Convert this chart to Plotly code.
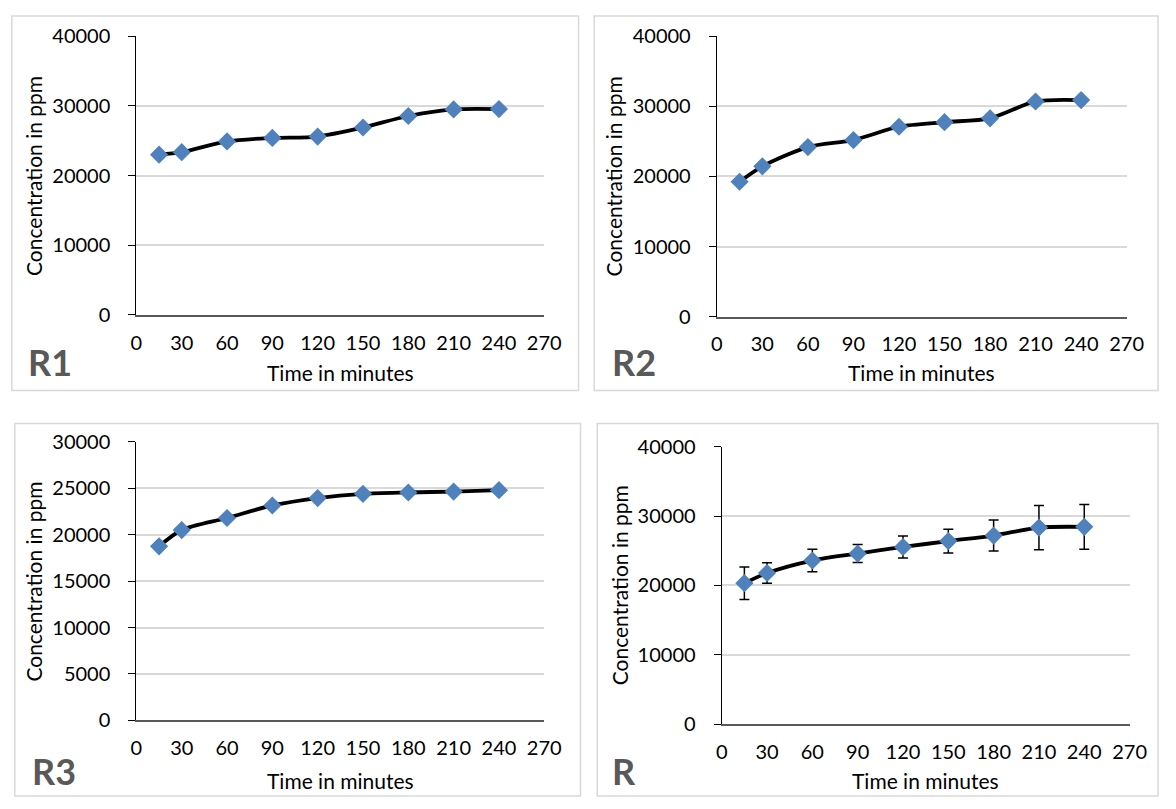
import plotly.graph_objects as go

# Sampling times (minutes) and measured concentrations (ppm)
time_min = [15, 30, 60, 90, 120, 150, 180, 210, 240]
r1_ppm = [23000, 23350, 24900, 25400, 25600, 26900, 28550, 29500, 29550]
r2_ppm = [19250, 21450, 24200, 25200, 27100, 27750, 28300, 30700, 30900]
r3_ppm = [18750, 20500, 21800, 23150, 23950, 24400, 24550, 24650, 24800]
r_mean_ppm = [20330, 21800, 23600, 24600, 25550, 26400, 27200, 28350, 28450]
r_sd_ppm = [2350, 1470, 1630, 1300, 1590, 1700, 2240, 3190, 3240]

x_tick_vals = [0, 30, 60, 90, 120, 150, 180, 210, 240, 270]
panel_labels = ["R1", "R2", "R3", "R"]
x_title = "Time in minutes"
y_title = "Concentration in ppm"

W, H = 1176, 809
FONT = "Lato"
TICK_SIZE = 20
TITLE_SIZE = 21


def fx(px):
    return px / W


def fy(py):
    return 1 - py / H


# Layout of each panel in pixels: frame box, plot area, title positions
panels = [
    dict(label=panel_labels[0], y=r1_ppm, err=None, ymax=40000, dtick=10000,
         box=(6, 3, 584, 389), plot=(133, 24, 549, 311),
         ytitle_x=28, xtitle_y=370, tag=(45, 360)),
    dict(label=panel_labels[1], y=r2_ppm, err=None, ymax=40000, dtick=10000,
         box=(600, 3, 1175, 389), plot=(725, 24, 1143, 313),
         ytitle_x=620, xtitle_y=370, tag=(641, 360)),
    dict(label=panel_labels[2], y=r3_ppm, err=None, ymax=30000, dtick=5000,
         box=(9, 423, 586, 807), plot=(133, 442, 549, 729),
         ytitle_x=28, xtitle_y=791, tag=(49, 781)),
    dict(label=panel_labels[3], y=r_mean_ppm, err=r_sd_ppm, ymax=40000,
         dtick=10000, box=(603, 423, 1175, 807), plot=(730, 447, 1146, 733),
         ytitle_x=626, xtitle_y=791, tag=(630, 781)),
]

fig = go.Figure()
shapes = []
annotations = []
layout_axes = {}

for i, p in enumerate(panels, start=1):
    sfx = "" if i == 1 else str(i)
    xa, ya = "x" + sfx, "y" + sfx

    trace = go.Scatter(
        x=time_min, y=p["y"], xaxis=xa, yaxis=ya,
        mode="lines+markers",
        line=dict(color="black", width=3.8, shape="spline", smoothing=0.8),
        marker=dict(symbol="diamond", size=14, color="#4F81BD",
                    line=dict(width=0)),
        showlegend=False, hoverinfo="skip",
    )
    if p["err"] is not None:
        trace.error_y = dict(type="data", array=p["err"], visible=True,
                             color="black", thickness=1.5, width=5)
    fig.add_trace(trace)

    x0, y0, x1, y1 = p["plot"]
    layout_axes["xaxis" + sfx] = dict(
        domain=[fx(x0), fx(x1)], anchor=ya, range=[0, 270],
        tickvals=x_tick_vals, showgrid=False, zeroline=False,
        showline=True, linecolor="#595959", linewidth=1.5,
        ticks="", ticklabelstandoff=9,
        tickfont=dict(family=FONT, size=TICK_SIZE, color="black"),
        fixedrange=True,
    )
    layout_axes["yaxis" + sfx] = dict(
        domain=[fy(y1), fy(y0)], anchor=xa, range=[0, p["ymax"]],
        dtick=p["dtick"], tick0=0, tickformat="d",
        showgrid=True, gridcolor="#D9D9D9",
        gridwidth=1.5, zeroline=False, showline=True, linecolor="black",
        linewidth=1.2, ticks="outside", ticklen=7, tickcolor="black",
        tickwidth=1.2, ticklabelstandoff=14,
        tickfont=dict(family=FONT, size=TICK_SIZE, color="black"),
        fixedrange=True,
    )

    bx0, by0, bx1, by1 = p["box"]
    shapes.append(dict(type="rect", xref="paper", yref="paper",
                       x0=fx(bx0), x1=fx(bx1), y0=fy(by1), y1=fy(by0),
                       line=dict(color="#D9D9D9", width=1.5), layer="below"))

    annotations.append(dict(
        text=y_title, xref="paper", yref="paper",
        x=fx(p["ytitle_x"]), y=fy((y0 + y1) / 2), textangle=-90,
        showarrow=False, xanchor="center", yanchor="middle",
        font=dict(family=FONT, size=TITLE_SIZE, color="black")))
    annotations.append(dict(
        text=x_title, xref="paper", yref="paper",
        x=fx((x0 + x1) / 2), y=fy(p["xtitle_y"]),
        showarrow=False, xanchor="center", yanchor="middle",
        font=dict(family=FONT, size=TITLE_SIZE, color="black")))
    annotations.append(dict(
        text="<b>%s</b>" % p["label"], xref="paper", yref="paper",
        x=fx(p["tag"][0]), y=fy(p["tag"][1]),
        showarrow=False, xanchor="center", yanchor="middle",
        font=dict(family=FONT, size=36, color="#595959")))

fig.update_layout(
    width=W, height=H, margin=dict(l=0, r=0, t=0, b=0),
    paper_bgcolor="white", plot_bgcolor="white",
    shapes=shapes, annotations=annotations, **layout_axes,
)

fig.write_html("out.html", config={"displayModeBar": False})
